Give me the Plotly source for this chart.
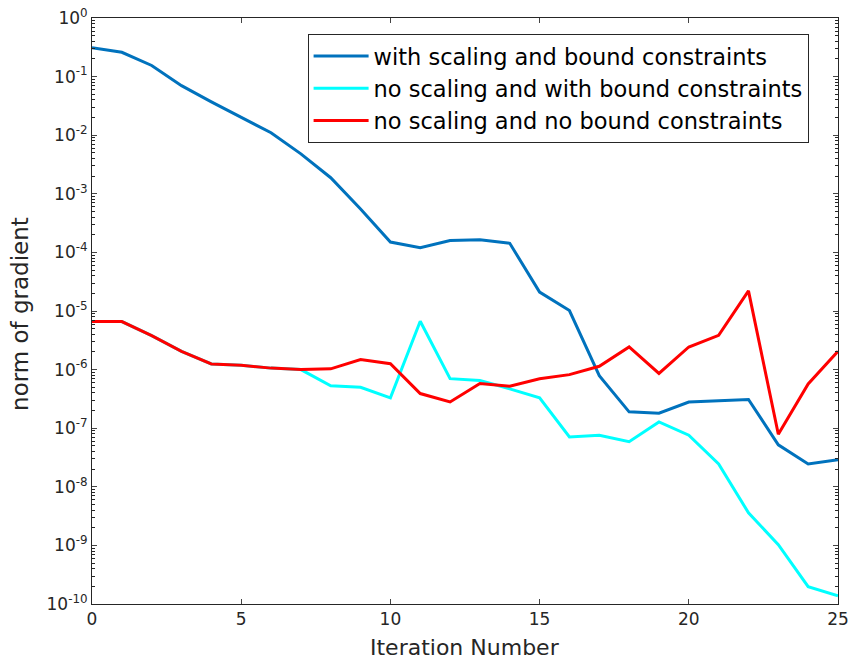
import plotly.graph_objects as go

iterations = list(range(26))

with_scaling_bound = [0.31, 0.26, 0.155, 0.07, 0.037, 0.02, 0.011, 0.0048, 0.00188, 0.00055,
                      1.5e-4, 1.2e-4, 1.6e-4, 1.65e-4, 1.43e-4, 2.1e-5, 1.02e-5, 7.9e-7,
                      1.9e-7, 1.8e-7, 2.8e-7, 2.95e-7, 3.1e-7, 5.2e-8, 2.45e-8, 2.9e-8]

no_scaling_bound = [6.6e-6, 6.6e-6, 3.8e-6, 2.05e-6, 1.25e-6, 1.19e-6, 1.06e-6, 1.0e-6, 5.3e-7, 5.0e-7,
                    3.3e-7, 6.7e-6, 7.0e-7, 6.5e-7, 4.7e-7, 3.3e-7, 7.1e-8, 7.6e-8,
                    5.9e-8, 1.28e-7, 7.6e-8, 2.45e-8, 3.6e-9, 1.03e-9, 1.97e-10, 1.38e-10]

no_scaling_no_bound = [6.6e-6, 6.6e-6, 3.8e-6, 2.05e-6, 1.25e-6, 1.19e-6, 1.06e-6, 1.0e-6, 1.03e-6, 1.48e-6,
                       1.26e-6, 3.9e-7, 2.8e-7, 5.8e-7, 5.2e-7, 7.0e-7, 8.2e-7, 1.14e-6,
                       2.43e-6, 8.6e-7, 2.43e-6, 3.85e-6, 2.2e-5, 7.9e-8, 5.7e-7, 2.05e-6]

series_names = ["with scaling and bound constraints",
                "no scaling and with bound constraints",
                "no scaling and no bound constraints"]
series_colors = ["#0072BD", "#00FFFF", "#FF0000"]

x_title = "Iteration Number"
y_title = "norm of gradient"

y_exponents = list(range(-10, 1))
y_tickvals = [10.0 ** e for e in y_exponents]
y_ticktext = ["10<sup>%d</sup>" % e for e in y_exponents]
y_minor = [m * 10.0 ** e for e in range(-10, 0) for m in range(2, 10)]

fig = go.Figure()
for name, vals, col in zip(series_names,
                           [with_scaling_bound, no_scaling_bound, no_scaling_no_bound],
                           series_colors):
    fig.add_trace(go.Scatter(x=iterations, y=vals, mode="lines", name=name,
                             line=dict(color=col, width=3)))

font_family = "DejaVu Sans, Liberation Sans, sans-serif"

fig.update_layout(
    width=849, height=665,
    margin=dict(l=92, r=11, t=18, b=61),
    paper_bgcolor="white", plot_bgcolor="white",
    font=dict(family=font_family, color="#262626"),
    showlegend=True,
    legend=dict(x=0.289, y=0.973, xanchor="left", yanchor="top",
                bgcolor="white", bordercolor="#262626", borderwidth=1,
                font=dict(size=22.5, color="black"), tracegroupgap=0,
                itemwidth=55),
)
fig.add_annotation(text=x_title, xref="paper", yref="paper", x=0.5, y=-0.0734,
                   xanchor="center", yanchor="middle", showarrow=False,
                   font=dict(size=22, color="#262626"))
fig.add_annotation(text=y_title, xref="paper", yref="paper", x=-0.0965, y=0.495,
                   xanchor="center", yanchor="middle", showarrow=False, textangle=-90,
                   font=dict(size=23, color="#262626"))
fig.update_xaxes(range=[0, 25], tickvals=[0, 5, 10, 15, 20, 25], ticks="inside", ticklen=5,
                 showline=True, linecolor="#262626", linewidth=1, mirror="allticks",
                 showgrid=False, zeroline=False, tickfont=dict(size=17), automargin=False,
                 ticklabeloverflow="allow")
fig.update_yaxes(type="log", range=[-10, 0], tickvals=y_tickvals, ticktext=y_ticktext,
                 ticks="inside", ticklen=5, showline=True, linecolor="#262626", linewidth=1,
                 mirror="allticks", showgrid=False, zeroline=False, tickfont=dict(size=17),
                 automargin=False, ticklabeloverflow="allow",
                 minor=dict(tickvals=y_minor, ticks="inside", ticklen=3, showgrid=False,
                            tickcolor="#262626"))

fig.write_html("out.html", config={"displayModeBar": False},
               post_script="document.body.style.margin='0';document.body.style.overflow='hidden';")
